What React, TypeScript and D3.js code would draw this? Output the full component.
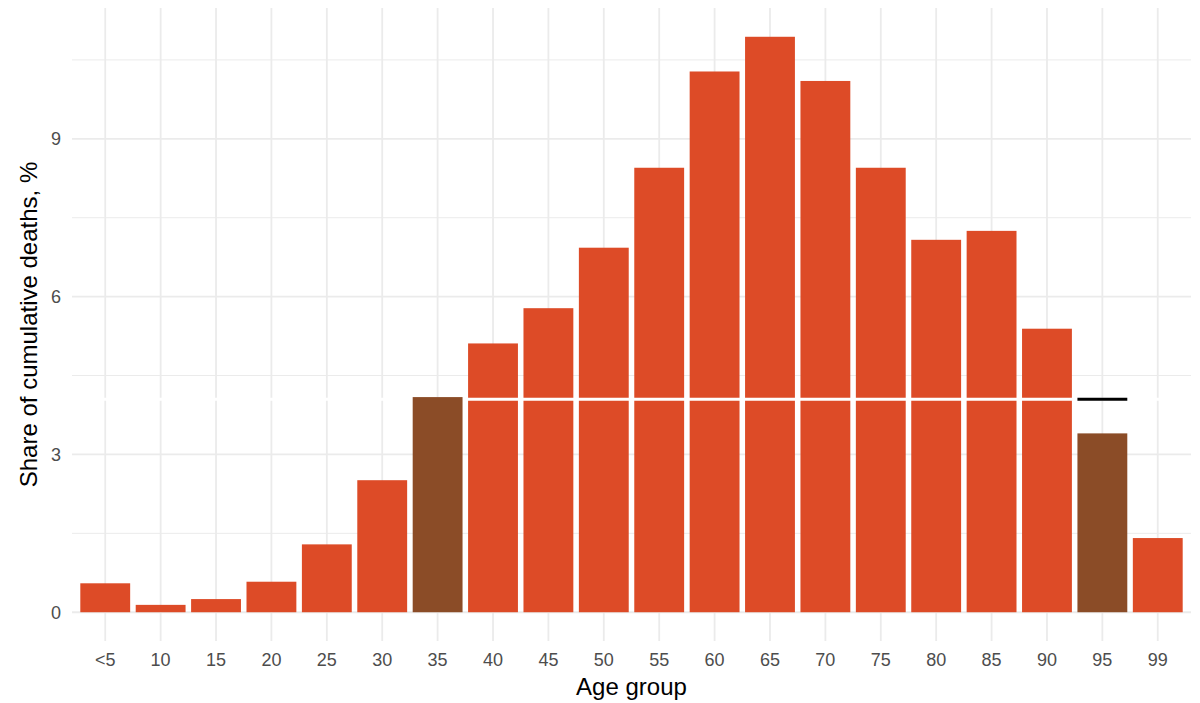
import React from "react";
import * as d3 from "d3";

const categories = ["<5","10","15","20","25","30","35","40","45","50","55","60","65","70","75","80","85","90","95","99"];
const values = [0.55,0.14,0.25,0.58,1.29,2.51,4.09,5.11,5.78,6.93,8.45,10.28,10.94,10.1,8.45,7.08,7.25,5.39,3.40,1.41];
const highlighted = ["35","95"];
const refLevel = 4.05;
const refMarkCategory = "95";
const yTicks = [0,3,6,9];
const yMinor = [1.5,4.5,7.5,10.5];

const W = 1200, H = 703;
const panel = { left: 72, right: 1191, top: 8, bottom: 641 };
const ORANGE = "#DD4B27";
const BROWN = "#8B4C27";
const GRID = "#EBEBEB";
const FONT = "Liberation Sans, Arial, sans-serif";

export default function App() {
  const maxV = d3.max(values) as number;
  const pad = maxV * 0.05;
  const y = d3.scaleLinear().domain([-pad, maxV + pad]).range([panel.bottom, panel.top]);
  const step = (panel.right - panel.left) / (categories.length - 1 + 1.2);
  const xc = d3.scalePoint<string>().domain(categories).range([panel.left + 0.6 * step, panel.right - 0.6 * step]);
  const bw = step * 0.9;
  const refX = xc(refMarkCategory) as number;

  return (
    <svg width={W} height={H} style={{ position: "absolute", left: 0, top: 0, background: "#fff" }} fontFamily={FONT}>
      {yMinor.map(v => (
        <line key={"mn" + v} x1={panel.left} x2={panel.right} y1={y(v)} y2={y(v)} stroke={GRID} strokeWidth={1} />
      ))}
      {yTicks.map(v => (
        <line key={"mj" + v} x1={panel.left} x2={panel.right} y1={y(v)} y2={y(v)} stroke={GRID} strokeWidth={1.8} />
      ))}
      {categories.map(c => (
        <line key={"vx" + c} x1={xc(c)} x2={xc(c)} y1={panel.top} y2={panel.bottom} stroke={GRID} strokeWidth={1.8} />
      ))}
      {categories.map((c, i) => highlighted.includes(c) ? null : (
        <rect key={"b" + c} x={(xc(c) as number) - bw / 2} width={bw} y={y(values[i])} height={y(0) - y(values[i])} fill={ORANGE} />
      ))}
      <line x1={panel.left} x2={panel.right} y1={y(refLevel)} y2={y(refLevel)} stroke="#fff" strokeWidth={3} />
      {categories.map((c, i) => highlighted.includes(c) ? (
        <rect key={"h" + c} x={(xc(c) as number) - bw / 2} width={bw} y={y(values[i])} height={y(0) - y(values[i])} fill={BROWN} />
      ) : null)}
      <line x1={refX - bw / 2} x2={refX + bw / 2} y1={y(refLevel)} y2={y(refLevel)} stroke="#000" strokeWidth={3} />
      {yTicks.map(v => (
        <text key={"yt" + v} x={61} y={y(v)} dy="0.36em" textAnchor="end" fontSize={18} fill="#4D4D4D">{v}</text>
      ))}
      {categories.map(c => (
        <text key={"xt" + c} x={xc(c)} y={666} textAnchor="middle" fontSize={18} fill="#4D4D4D">{c}</text>
      ))}
      <text x={(panel.left + panel.right) / 2} y={695} textAnchor="middle" fontSize={24} fill="#000">Age group</text>
      <text transform={`translate(37,${(panel.top + panel.bottom) / 2}) rotate(-90)`} textAnchor="middle" fontSize={24} fill="#000">Share of cumulative deaths, %</text>
    </svg>
  );
}
